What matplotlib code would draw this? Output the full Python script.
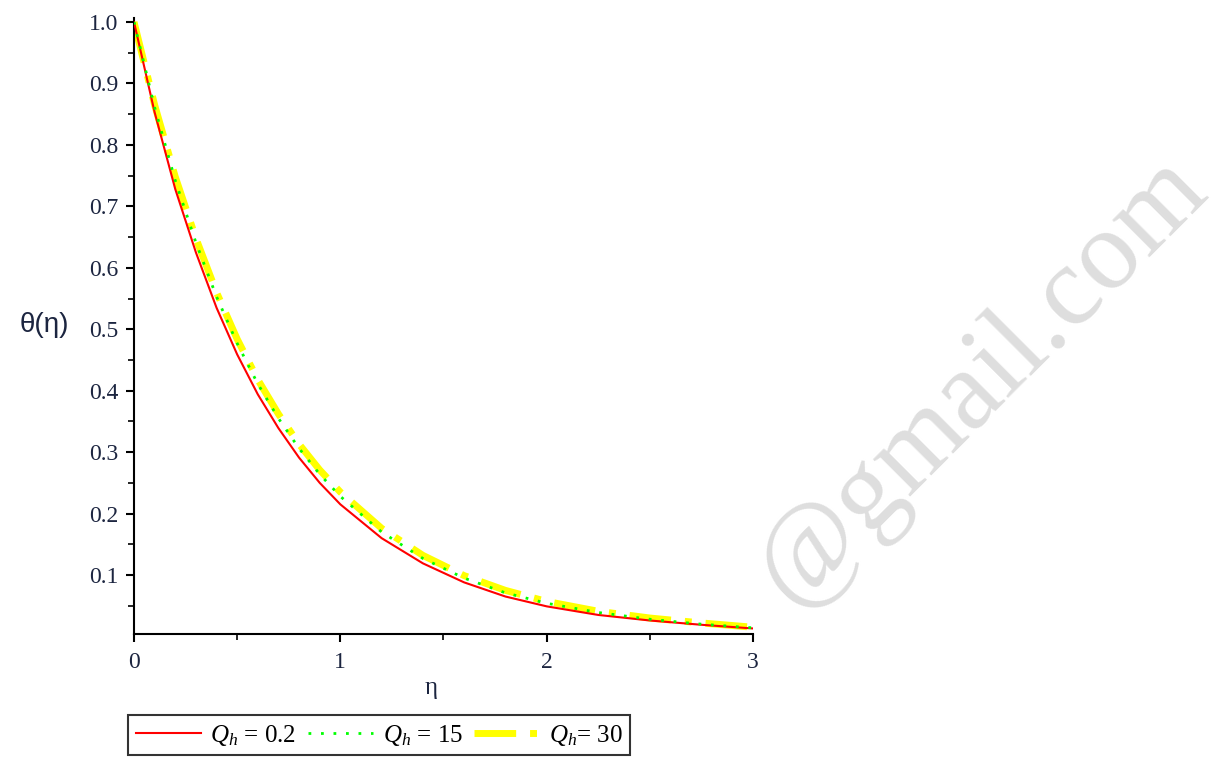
import numpy as np
import matplotlib
matplotlib.use("Agg")
import matplotlib.pyplot as plt
from matplotlib.patches import Rectangle
from matplotlib.ticker import MultipleLocator, FormatStrFormatter

plt.rcParams['font.family'] = ['Liberation Serif', 'DejaVu Serif']
plt.rcParams['mathtext.fontset'] = 'custom'
plt.rcParams['mathtext.rm'] = 'Liberation Serif'
plt.rcParams['mathtext.it'] = 'Liberation Serif:italic'

# eta grid and theta(eta)
eta = [0, 0.1, 0.2, 0.3, 0.4, 0.5, 0.6, 0.7, 0.8, 0.9, 1.0,
       1.2, 1.4, 1.6, 1.8, 2.0, 2.25, 2.5, 2.75, 3.0]
theta_q02 = [1.0, 0.853, 0.728, 0.625, 0.535, 0.459, 0.394, 0.339, 0.291, 0.250, 0.215,
             0.160, 0.119, 0.088, 0.065, 0.049, 0.035, 0.026, 0.019, 0.013]
theta_q15 = [1.0, 0.861, 0.742, 0.641, 0.553, 0.477, 0.411, 0.355, 0.306, 0.264, 0.228,
             0.170, 0.127, 0.095, 0.071, 0.054, 0.039, 0.028, 0.020, 0.014]
theta_q30 = [1.0, 0.865, 0.748, 0.648, 0.560, 0.484, 0.418, 0.362, 0.313, 0.271, 0.235,
             0.176, 0.132, 0.099, 0.075, 0.057, 0.041, 0.030, 0.022, 0.015]

labels = [r'$Q_h$ = 0.2', r'$Q_h$ = 15', r'$Q_h$= 30']

W, H = 1225, 759
fig = plt.figure(figsize=(W / 100, H / 100), dpi=100)

# watermark behind the plot, cut off on the left like in the scan
wm = fig.text(982 / W, 1 - 380 / H, '@gmail.com', fontsize=82, color='#dedede',
              rotation=45, rotation_mode='anchor', ha='center', va='center', zorder=0)
wm.set_clip_path(Rectangle((758 / W, 0), 1, 1, transform=fig.transFigure))

ax = fig.add_axes([134 / W, 1 - 634 / H, (753 - 134) / W, (634 - 18) / H])
ax.set_facecolor('none')

ax.plot(eta, theta_q02, color='#ff0000', lw=1.5, label=labels[0], zorder=3)
ax.plot(eta, theta_q15, color='#00ff00', lw=2.0, dashes=(1, 3.5), label=labels[1], zorder=4)
ax.plot(eta, theta_q30, color='#ffff00', lw=5.0, dashes=(6, 2, 1, 2), label=labels[2], zorder=2)

ax.set_xlim(0, 3)
ax.set_ylim(0.004, 1.0065)

for s in ['top', 'right']:
    ax.spines[s].set_visible(False)
for s in ['left', 'bottom']:
    ax.spines[s].set_linewidth(1.5)

ax.xaxis.set_major_locator(MultipleLocator(1))
ax.xaxis.set_minor_locator(MultipleLocator(0.5))
ax.yaxis.set_minor_locator(MultipleLocator(0.05))
ax.yaxis.set_major_formatter(FormatStrFormatter('%.1f'))
ax.set_yticks([0.1, 0.2, 0.3, 0.4, 0.5, 0.6, 0.7, 0.8, 0.9, 1.0])
ax.tick_params(which='major', length=6, width=1.5, labelsize=17, labelcolor='#1c2540')
ax.tick_params(which='minor', length=4, width=1.2)
ax.tick_params(axis='x', pad=7)
ax.tick_params(axis='y', pad=5)

fig.text(44 / W, 1 - 325 / H, 'θ(η)', fontsize=20, family=['Liberation Sans', 'DejaVu Sans'],
         ha='center', va='center', color='#1c2540')
fig.text(431 / W, 1 - 688 / H, 'η', fontsize=18, ha='center', va='center', color='#1c2540')

leg = fig.legend(loc='lower left', bbox_to_anchor=(128 / W, 4 / H), ncol=3, fontsize=18,
                 frameon=True, fancybox=False, edgecolor='black', borderaxespad=0,
                 handlelength=2.6, handletextpad=0.4, columnspacing=0.45,
                 borderpad=0.3)
leg.get_frame().set_linewidth(1.5)

fig.savefig('out.png', dpi=100)
